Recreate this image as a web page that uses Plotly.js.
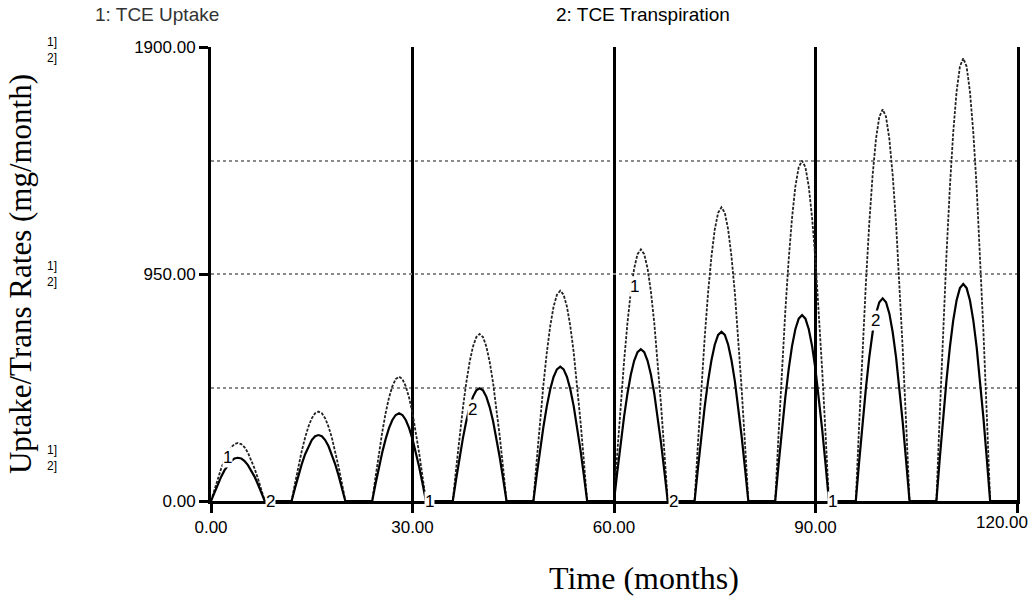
<!DOCTYPE html>
<html>
<head>
<meta charset="utf-8">
<script src="https://cdn.plot.ly/plotly-3.0.1.min.js"></script>
<style>
html,body{margin:0;padding:0;background:#fff;}
#chart{width:1031px;height:597px;}
</style>
</head>
<body>
<div id="chart"></div>
<script>
// Sampling times (months), half-month steps
const stepMonths = 0.5;
const endMonth = 120;

// TCE Uptake (series 1), values read at half-month steps 0.5..7.5 of each yearly season
const uptakeByYear = [
  [47, 93, 135, 172, 202, 225, 238, 243, 238, 225, 202, 172, 135, 93, 47],
  [73, 143, 208, 264, 311, 346, 367, 374, 367, 346, 311, 264, 208, 143, 73],
  [101, 199, 289, 368, 432, 480, 510, 520, 510, 480, 432, 368, 289, 199, 101],
  [136, 268, 389, 494, 581, 646, 686, 699, 686, 646, 581, 494, 389, 268, 136],
  [172, 337, 489, 622, 731, 813, 863, 880, 863, 813, 731, 622, 489, 337, 172],
  [205, 403, 585, 744, 875, 973, 1033, 1053, 1033, 973, 875, 744, 585, 403, 205],
  [240, 471, 683, 869, 1021, 1136, 1206, 1229, 1206, 1136, 1021, 869, 683, 471, 240],
  [278, 545, 792, 1007, 1183, 1316, 1397, 1424, 1397, 1316, 1183, 1007, 792, 545, 278],
  [320, 628, 911, 1159, 1362, 1514, 1608, 1639, 1608, 1514, 1362, 1159, 911, 628, 320],
  [361, 710, 1030, 1310, 1540, 1712, 1818, 1853, 1818, 1712, 1540, 1310, 1030, 710, 361]
];

// TCE Transpiration (series 2)
const transpByYear = [
  [35, 69, 101, 128, 150, 167, 178, 181, 178, 167, 150, 128, 101, 69, 35],
  [54, 106, 153, 195, 229, 255, 271, 276, 271, 255, 229, 195, 153, 106, 54],
  [72, 141, 204, 259, 305, 339, 360, 367, 360, 339, 305, 259, 204, 141, 72],
  [92, 181, 262, 334, 392, 436, 463, 472, 463, 436, 392, 334, 262, 181, 92],
  [110, 215, 312, 397, 467, 519, 551, 562, 551, 519, 467, 397, 312, 215, 110],
  [124, 243, 353, 449, 528, 587, 623, 635, 623, 587, 528, 449, 353, 243, 124],
  [138, 271, 394, 501, 588, 654, 695, 708, 695, 654, 588, 501, 394, 271, 138],
  [152, 298, 433, 550, 647, 719, 763, 778, 763, 719, 647, 550, 433, 298, 152],
  [165, 325, 471, 600, 705, 784, 832, 848, 832, 784, 705, 600, 471, 325, 165],
  [177, 348, 505, 642, 755, 839, 891, 908, 891, 839, 755, 642, 505, 348, 177]
];

// Axis ticks
const xTickVals = [0, 30, 60, 90, 120];
const xTickText = ["0.00", "30.00", "60.00", "90.00", ""];
const xLastTickText = "120.00";
const yTickVals = [0, 950, 1900];
const yTickText = ["0.00", "950.00", "1900.00"];
const yMinorVals = [475, 1425];

// Build full series: each year = 0, season values, then zeros for off-season
function buildSeries(byYear) {
  const out = [];
  byYear.forEach(season => {
    out.push(0);
    season.forEach(v => out.push(v));
    for (let k = 0; k < 8; k++) out.push(0);
  });
  out.push(0);
  return out;
}
const time = [];
for (let i = 0; i * stepMonths <= endMonth; i++) time.push(i * stepMonths);
const uptake = buildSeries(uptakeByYear);
const transp = buildSeries(transpByYear);

const traces = [
  {x: time, y: uptake, type: 'scatter', mode: 'lines', name: '1: TCE Uptake',
   line: {color: '#222222', width: 1.8, dash: '3px,1.5px'}, hoverinfo: 'x+y'},
  {x: time, y: transp, type: 'scatter', mode: 'lines', name: '2: TCE Transpiration',
   line: {color: '#000000', width: 2.2}, hoverinfo: 'x+y'}
];

const sans = 'Liberation Sans, Arial, Helvetica, sans-serif';
const serif = 'Liberation Serif, Times New Roman, serif';

function curveLabel(txt, x, y) {
  return {text: txt, x: x, y: y, xref: 'x', yref: 'y', showarrow: false,
    font: {family: sans, size: 17, color: '#000'}, bgcolor: '#ffffff', borderpad: 0};
}
function scaleMark(yPaper) {
  return {text: '1]<br>2]', xref: 'paper', yref: 'paper', x: -0.197, y: yPaper,
    xanchor: 'center', yanchor: 'middle', showarrow: false,
    font: {family: sans, size: 12, color: '#000'}};
}

const layout = {
  width: 1031, height: 597,
  margin: {l: 211, r: 14, t: 47, b: 96},
  paper_bgcolor: '#ffffff', plot_bgcolor: '#ffffff',
  showlegend: false,
  xaxis: {
    range: [0, 120], tickvals: xTickVals, ticktext: xTickText,
    ticks: 'outside', ticklen: 9, tickwidth: 3, tickcolor: '#000',
    showline: true, linecolor: '#000', linewidth: 3,
    showgrid: true, gridcolor: '#000', gridwidth: 3,
    zeroline: false, fixedrange: true,
    tickfont: {family: sans, size: 17, color: '#000'}
  },
  yaxis: {
    range: [0, 1900], tickvals: yTickVals, ticktext: yTickText,
    ticks: 'outside', ticklen: 9, tickwidth: 3, tickcolor: '#000',
    ticklabeloverflow: 'allow',
    showline: true, linecolor: '#000', linewidth: 3, mirror: true,
    showgrid: true, gridcolor: '#8a8a8a', gridwidth: 2, griddash: 'dot',
    minor: {tickvals: yMinorVals, showgrid: true, gridcolor: '#8a8a8a', gridwidth: 2, griddash: 'dot', ticks: ''},
    zeroline: false, fixedrange: true,
    tickfont: {family: sans, size: 17, color: '#000'},
    title: {text: 'Uptake/Trans Rates (mg/month)', font: {family: serif, size: 31, color: '#000'}, standoff: 94}
  },
  annotations: [
    {text: 'Time (months)', xref: 'paper', yref: 'paper', x: 0.537, y: -0.1696,
     xanchor: 'center', yanchor: 'middle', showarrow: false,
     font: {family: serif, size: 32, color: '#000'}},
    {text: xLastTickText, xref: 'paper', yref: 'paper', x: 1.016, y: -0.048,
     xanchor: 'right', yanchor: 'middle', showarrow: false,
     font: {family: sans, size: 17, color: '#000'}},
    {text: '1: TCE Uptake', xref: 'paper', yref: 'paper', x: -0.146, y: 1.071,
     xanchor: 'left', yanchor: 'middle', showarrow: false,
     font: {family: sans, size: 19, color: '#333'}},
    {text: '2: TCE Transpiration', xref: 'paper', yref: 'paper', x: 0.4255, y: 1.071,
     xanchor: 'left', yanchor: 'middle', showarrow: false,
     font: {family: sans, size: 19, color: '#000'}},
    scaleMark(0.993),
    scaleMark(0.499),
    scaleMark(0.094),
    curveLabel('1', 2.5, 184),
    curveLabel('2', 8.8, 0),
    curveLabel('1', 32.6, 0),
    curveLabel('2', 38.9, 381),
    curveLabel('1', 63.0, 896),
    curveLabel('2', 68.9, 0),
    curveLabel('1', 92.6, 0),
    curveLabel('2', 99.0, 757)
  ]
};

Plotly.newPlot('chart', traces, layout, {displayModeBar: false, staticPlot: true});
</script>
</body>
</html>
